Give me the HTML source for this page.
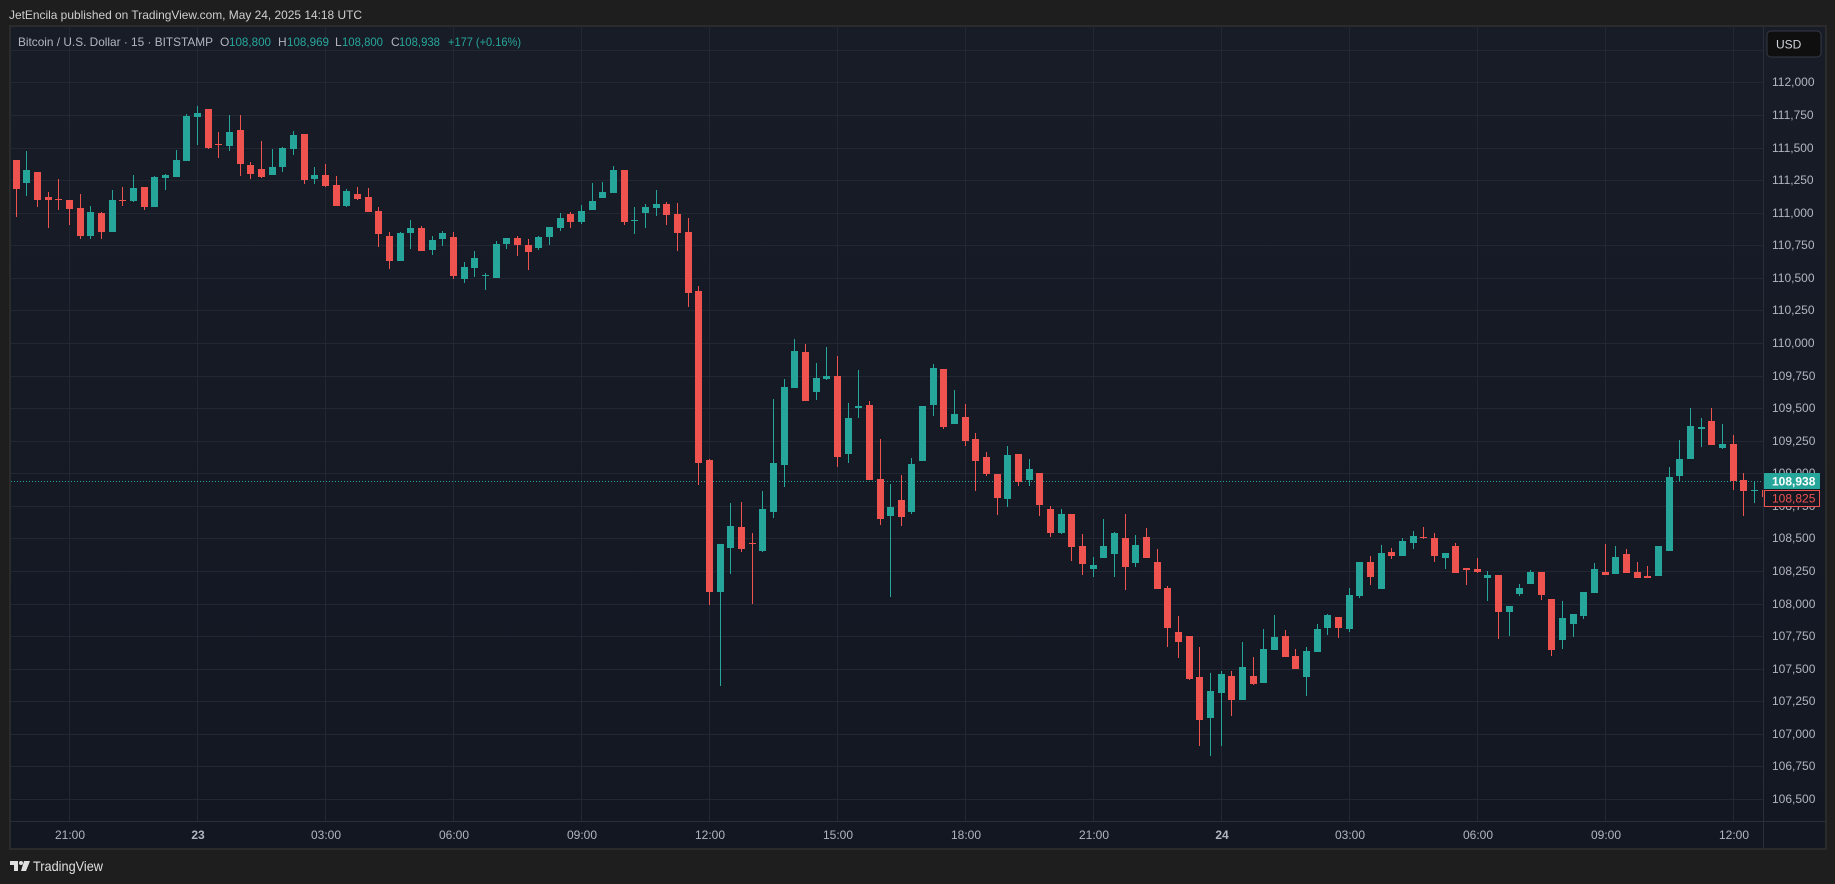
<!DOCTYPE html>
<html><head><meta charset="utf-8"><style>
html,body{margin:0;padding:0;background:#1e1e1e;width:1835px;height:884px;overflow:hidden}
svg{display:block}
text{font-family:"Liberation Sans",sans-serif}
</style></head><body>
<svg width="1835" height="884" viewBox="0 0 1835 884" xmlns="http://www.w3.org/2000/svg">
<defs>
<linearGradient id="bg" x1="0" y1="0" x2="0" y2="1">
<stop offset="0" stop-color="#181c27"/><stop offset="1" stop-color="#131722"/>
</linearGradient>
<clipPath id="pane"><rect x="11" y="27" width="1752" height="794"/></clipPath>
</defs>
<rect width="1835" height="884" fill="#1e1e1e"/>
<text x="9" y="19" font-size="12" fill="#cfcfcf" textLength="353" lengthAdjust="spacingAndGlyphs">JetEncila published on TradingView.com, May 24, 2025 14:18 UTC</text>
<rect x="9" y="25" width="1818" height="825" fill="#2b2b2b"/>
<rect x="11" y="27" width="1814" height="821" fill="url(#bg)"/>
<g stroke="#232733" stroke-width="1" shape-rendering="crispEdges">
<path d="M11 50.5H1763M11 82.5H1763M11 115.5H1763M11 148.5H1763M11 180.5H1763M11 213.5H1763M11 245.5H1763M11 278.5H1763M11 310.5H1763M11 343.5H1763M11 376.5H1763M11 408.5H1763M11 441.5H1763M11 473.5H1763M11 506.5H1763M11 538.5H1763M11 571.5H1763M11 604.5H1763M11 636.5H1763M11 669.5H1763M11 701.5H1763M11 734.5H1763M11 766.5H1763M11 799.5H1763"/>
<path d="M69.5 27V821M197.5 27V821M325.5 27V821M453.5 27V821M581.5 27V821M709.5 27V821M837.5 27V821M965.5 27V821M1093.5 27V821M1221.5 27V821M1349.5 27V821M1477.5 27V821M1605.5 27V821M1733.5 27V821"/>
</g>
<g stroke="#2a2e39" stroke-width="1" shape-rendering="crispEdges">
<path d="M1763.5 27V848M11 821.5H1825"/>
</g>
<g font-size="12" fill="#b2b5be">
<text x="18" y="46" textLength="195" lengthAdjust="spacingAndGlyphs">Bitcoin / U.S. Dollar · 15 · BITSTAMP</text>
<text x="220" y="46">O</text><text x="278" y="46">H</text><text x="335" y="46">L</text><text x="391" y="46">C</text>
</g>
<g font-size="12" fill="#26a69a">
<text x="229" y="46" textLength="42" lengthAdjust="spacingAndGlyphs">108,800</text>
<text x="287" y="46" textLength="42" lengthAdjust="spacingAndGlyphs">108,969</text>
<text x="342" y="46" textLength="41" lengthAdjust="spacingAndGlyphs">108,800</text>
<text x="399" y="46" textLength="41" lengthAdjust="spacingAndGlyphs">108,938</text>
<text x="448" y="46" textLength="73" lengthAdjust="spacingAndGlyphs">+177 (+0.16%)</text>
</g>
<line x1="11" y1="481.5" x2="1763" y2="481.5" stroke="#26a69a" stroke-width="1" stroke-dasharray="1 2"/>
<g clip-path="url(#pane)" shape-rendering="crispEdges">
<path fill="#ef5350" d="M16 160h1v57h-1zM13 160h7v29h-7zM37 172h1v35h-1zM34 172h7v28h-7zM48 192h1v36h-1zM45 197h7v3h-7zM58 179h1v31h-1zM55 199h7v1h-7zM69 200h1v25h-1zM66 200h7v9h-7zM80 194h1v45h-1zM77 208h7v28h-7zM101 212h1v27h-1zM98 213h7v19h-7zM122 187h1v19h-1zM119 200h7v1h-7zM144 187h1v23h-1zM141 187h7v20h-7zM208 109h1v40h-1zM205 109h7v39h-7zM218 132h1v26h-1zM215 144h7v1h-7zM240 115h1v61h-1zM237 130h7v34h-7zM250 162h1v17h-1zM247 165h7v9h-7zM261 141h1v37h-1zM258 169h7v8h-7zM304 134h1v50h-1zM301 134h7v46h-7zM325 164h1v23h-1zM322 175h7v11h-7zM336 176h1v30h-1zM333 185h7v21h-7zM357 187h1v13h-1zM354 194h7v5h-7zM368 188h1v24h-1zM365 197h7v15h-7zM378 207h1v40h-1zM375 211h7v23h-7zM389 232h1v37h-1zM386 236h7v25h-7zM421 226h1v25h-1zM418 228h7v23h-7zM453 232h1v47h-1zM450 237h7v39h-7zM517 236h1v20h-1zM514 238h7v7h-7zM528 239h1v31h-1zM525 245h7v7h-7zM570 212h1v16h-1zM567 214h7v8h-7zM624 170h1v55h-1zM621 170h7v52h-7zM666 202h1v23h-1zM663 204h7v11h-7zM677 203h1v48h-1zM674 214h7v19h-7zM688 218h1v89h-1zM685 232h7v61h-7zM698 286h1v199h-1zM695 291h7v172h-7zM709 459h1v146h-1zM706 460h7v132h-7zM741 502h1v50h-1zM738 527h7v22h-7zM752 533h1v71h-1zM749 543h7v1h-7zM805 344h1v57h-1zM802 352h7v49h-7zM837 356h1v111h-1zM834 376h7v81h-7zM869 401h1v79h-1zM866 405h7v75h-7zM880 439h1v86h-1zM877 479h7v40h-7zM901 475h1v51h-1zM898 500h7v17h-7zM943 369h1v60h-1zM940 369h7v58h-7zM965 404h1v42h-1zM962 417h7v24h-7zM975 433h1v58h-1zM972 439h7v22h-7zM986 452h1v24h-1zM983 457h7v17h-7zM997 474h1v41h-1zM994 474h7v24h-7zM1018 454h1v32h-1zM1015 454h7v28h-7zM1039 473h1v43h-1zM1036 473h7v32h-7zM1050 506h1v31h-1zM1047 509h7v24h-7zM1071 514h1v47h-1zM1068 514h7v33h-7zM1082 534h1v41h-1zM1079 546h7v18h-7zM1125 514h1v76h-1zM1122 538h7v29h-7zM1146 528h1v30h-1zM1143 537h7v21h-7zM1157 549h1v40h-1zM1154 562h7v27h-7zM1167 586h1v61h-1zM1164 588h7v40h-7zM1178 616h1v42h-1zM1175 632h7v10h-7zM1189 636h1v44h-1zM1186 636h7v43h-7zM1199 647h1v99h-1zM1196 677h7v43h-7zM1231 671h1v45h-1zM1228 676h7v24h-7zM1253 657h1v28h-1zM1250 676h7v8h-7zM1285 630h1v27h-1zM1282 636h7v21h-7zM1295 649h1v20h-1zM1292 656h7v13h-7zM1338 617h1v21h-1zM1335 617h7v11h-7zM1370 556h1v29h-1zM1367 562h7v15h-7zM1391 548h1v11h-1zM1388 552h7v4h-7zM1423 527h1v12h-1zM1420 537h7v1h-7zM1434 533h1v29h-1zM1431 538h7v18h-7zM1455 543h1v30h-1zM1452 546h7v27h-7zM1466 568h1v17h-1zM1463 568h7v2h-7zM1477 558h1v15h-1zM1474 569h7v3h-7zM1498 575h1v64h-1zM1495 575h7v37h-7zM1541 572h1v28h-1zM1538 572h7v23h-7zM1551 599h1v57h-1zM1548 599h7v51h-7zM1605 544h1v31h-1zM1602 572h7v3h-7zM1626 549h1v24h-1zM1623 554h7v19h-7zM1637 562h1v16h-1zM1634 572h7v6h-7zM1647 566h1v12h-1zM1644 576h7v2h-7zM1711 408h1v37h-1zM1708 421h7v24h-7zM1733 435h1v55h-1zM1730 444h7v37h-7zM1743 473h1v43h-1zM1740 480h7v11h-7zM1762 490h7v7h-7z"/>
<path fill="#26a69a" d="M26 151h1v45h-1zM23 170h7v13h-7zM90 206h1v33h-1zM87 212h7v24h-7zM112 190h1v42h-1zM109 200h7v32h-7zM133 175h1v27h-1zM130 188h7v13h-7zM154 176h1v31h-1zM151 177h7v30h-7zM165 174h1v16h-1zM162 175h7v3h-7zM176 150h1v27h-1zM173 160h7v17h-7zM186 114h1v47h-1zM183 116h7v45h-7zM197 106h1v39h-1zM194 113h7v4h-7zM229 115h1v36h-1zM226 132h7v14h-7zM272 149h1v26h-1zM269 167h7v8h-7zM282 147h1v25h-1zM279 148h7v19h-7zM293 131h1v24h-1zM290 135h7v14h-7zM314 167h1v17h-1zM311 175h7v4h-7zM346 189h1v18h-1zM343 191h7v15h-7zM400 232h1v29h-1zM397 233h7v28h-7zM410 220h1v29h-1zM407 228h7v5h-7zM432 236h1v19h-1zM429 240h7v10h-7zM442 231h1v15h-1zM439 233h7v6h-7zM464 262h1v21h-1zM461 267h7v12h-7zM474 251h1v26h-1zM471 258h7v10h-7zM485 273h1v17h-1zM482 275h7v1h-7zM496 241h1v37h-1zM493 244h7v34h-7zM506 238h1v11h-1zM503 238h7v6h-7zM538 236h1v14h-1zM535 237h7v11h-7zM549 227h1v18h-1zM546 227h7v10h-7zM560 213h1v18h-1zM557 218h7v10h-7zM581 205h1v19h-1zM578 211h7v11h-7zM592 183h1v27h-1zM589 201h7v9h-7zM602 182h1v16h-1zM599 192h7v6h-7zM613 166h1v27h-1zM610 170h7v23h-7zM634 207h1v27h-1zM631 220h7v1h-7zM645 204h1v24h-1zM642 207h7v6h-7zM656 190h1v26h-1zM653 204h7v4h-7zM720 544h1v142h-1zM717 544h7v48h-7zM730 503h1v71h-1zM727 526h7v22h-7zM762 491h1v61h-1zM759 509h7v42h-7zM773 399h1v119h-1zM770 463h7v49h-7zM784 379h1v108h-1zM781 387h7v78h-7zM794 339h1v49h-1zM791 351h7v37h-7zM816 363h1v37h-1zM813 378h7v14h-7zM826 347h1v33h-1zM823 376h7v3h-7zM848 403h1v60h-1zM845 418h7v36h-7zM858 370h1v48h-1zM855 406h7v2h-7zM890 484h1v113h-1zM887 507h7v9h-7zM911 458h1v56h-1zM908 464h7v48h-7zM922 406h1v55h-1zM919 406h7v55h-7zM933 364h1v52h-1zM930 368h7v37h-7zM954 390h1v34h-1zM951 414h7v10h-7zM1007 446h1v61h-1zM1004 455h7v44h-7zM1029 459h1v27h-1zM1026 469h7v11h-7zM1061 509h1v25h-1zM1058 514h7v19h-7zM1093 557h1v20h-1zM1090 565h7v4h-7zM1103 519h1v39h-1zM1100 546h7v12h-7zM1114 532h1v45h-1zM1111 533h7v21h-7zM1135 535h1v32h-1zM1132 545h7v18h-7zM1210 673h1v83h-1zM1207 691h7v27h-7zM1221 671h1v75h-1zM1218 674h7v19h-7zM1242 642h1v58h-1zM1239 667h7v33h-7zM1263 629h1v54h-1zM1260 649h7v34h-7zM1274 615h1v35h-1zM1271 637h7v13h-7zM1306 647h1v49h-1zM1303 651h7v26h-7zM1317 624h1v28h-1zM1314 629h7v23h-7zM1327 614h1v21h-1zM1324 615h7v13h-7zM1349 588h1v44h-1zM1346 595h7v34h-7zM1359 562h1v36h-1zM1356 562h7v34h-7zM1381 545h1v44h-1zM1378 553h7v36h-7zM1402 538h1v18h-1zM1399 541h7v15h-7zM1413 531h1v18h-1zM1410 536h7v7h-7zM1445 553h1v16h-1zM1442 553h7v5h-7zM1487 571h1v30h-1zM1484 575h7v3h-7zM1509 606h1v30h-1zM1506 606h7v6h-7zM1519 584h1v12h-1zM1516 588h7v6h-7zM1530 570h1v14h-1zM1527 572h7v12h-7zM1562 601h1v48h-1zM1559 618h7v22h-7zM1573 614h1v23h-1zM1570 614h7v10h-7zM1583 592h1v27h-1zM1580 592h7v24h-7zM1594 563h1v30h-1zM1591 569h7v24h-7zM1615 546h1v28h-1zM1612 557h7v17h-7zM1658 546h1v30h-1zM1655 546h7v30h-7zM1669 467h1v84h-1zM1666 477h7v74h-7zM1679 440h1v41h-1zM1676 459h7v17h-7zM1690 408h1v51h-1zM1687 426h7v33h-7zM1701 418h1v29h-1zM1698 427h7v2h-7zM1722 424h1v25h-1zM1719 444h7v4h-7zM1754 481h1v22h-1zM1751 490h7v1h-7z"/>
</g>
<g font-size="12" fill="#b2b5be">
<text x="1772" y="86">112,000</text>
<text x="1772" y="119">111,750</text>
<text x="1772" y="152">111,500</text>
<text x="1772" y="184">111,250</text>
<text x="1772" y="217">111,000</text>
<text x="1772" y="249">110,750</text>
<text x="1772" y="282">110,500</text>
<text x="1772" y="314">110,250</text>
<text x="1772" y="347">110,000</text>
<text x="1772" y="380">109,750</text>
<text x="1772" y="412">109,500</text>
<text x="1772" y="445">109,250</text>
<text x="1772" y="477">109,000</text>
<text x="1772" y="510">108,750</text>
<text x="1772" y="542">108,500</text>
<text x="1772" y="575">108,250</text>
<text x="1772" y="608">108,000</text>
<text x="1772" y="640">107,750</text>
<text x="1772" y="673">107,500</text>
<text x="1772" y="705">107,250</text>
<text x="1772" y="738">107,000</text>
<text x="1772" y="770">106,750</text>
<text x="1772" y="803">106,500</text>
</g>
<rect x="1764" y="473" width="56" height="16" fill="#26a69a"/>
<text x="1772" y="485.5" font-size="12" font-weight="bold" fill="#ffffff">108,938</text>
<rect x="1764.5" y="490.5" width="55" height="16" fill="#131722" stroke="#ef5350" stroke-width="1"/>
<text x="1772" y="502.5" font-size="12" fill="#ef5350">108,825</text>
<rect x="1767" y="31" width="54" height="26" rx="4" ry="4" fill="#0f0f0f" stroke="#363a45" stroke-width="1"/>
<text x="1776" y="48.5" font-size="12" fill="#d1d4dc">USD</text>
<g font-size="12" fill="#b2b5be" text-anchor="middle">
<text x="70" y="839">21:00</text>
<text x="198" y="839" font-weight="bold">23</text>
<text x="326" y="839">03:00</text>
<text x="454" y="839">06:00</text>
<text x="582" y="839">09:00</text>
<text x="710" y="839">12:00</text>
<text x="838" y="839">15:00</text>
<text x="966" y="839">18:00</text>
<text x="1094" y="839">21:00</text>
<text x="1222" y="839" font-weight="bold">24</text>
<text x="1350" y="839">03:00</text>
<text x="1478" y="839">06:00</text>
<text x="1606" y="839">09:00</text>
<text x="1734" y="839">12:00</text>
</g>
<g fill="#e0e0e0">
<path d="M10 861h8v10h-4v-6h-4z"/>
<circle cx="21" cy="863" r="2"/>
<path d="M24 861h6l-4 10h-5z"/>
</g>
<text x="33" y="871" font-size="14" fill="#e0e0e0" textLength="70" lengthAdjust="spacingAndGlyphs">TradingView</text>
</svg>
</body></html>
